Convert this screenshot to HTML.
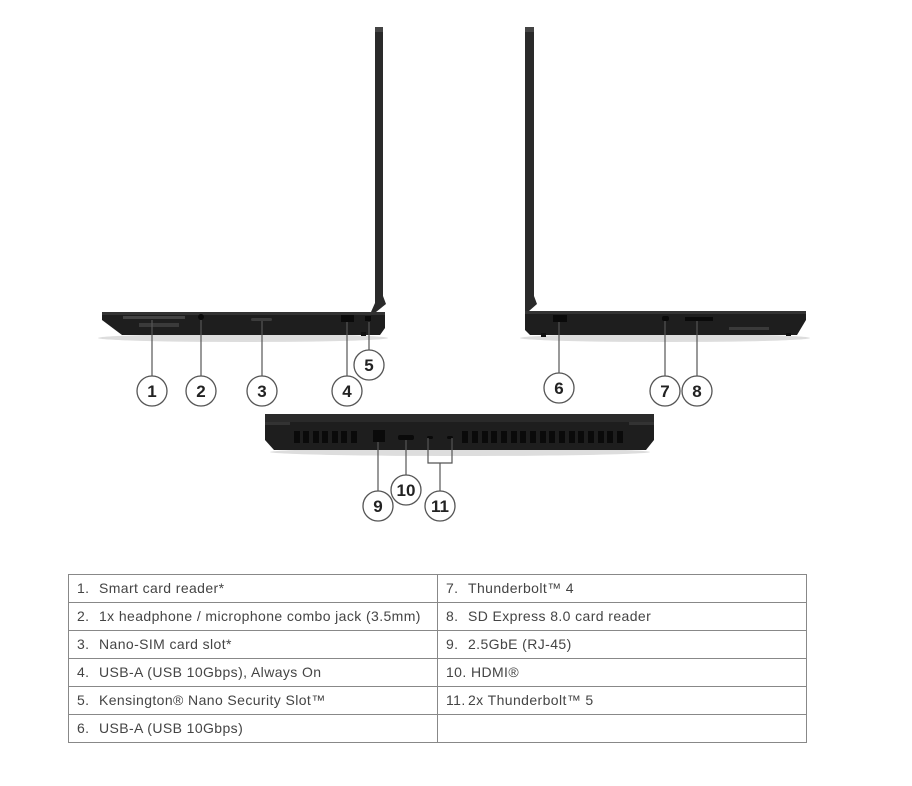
<!DOCTYPE html>
<html><head><meta charset="utf-8"><style>
html,body{margin:0;padding:0;background:#fff;}
svg{display:block;}
text{font-family:"Liberation Sans",sans-serif;}
</style></head><body>
<svg width="912" height="786" viewBox="0 0 912 786" xmlns="http://www.w3.org/2000/svg">
<!-- LEFT LAPTOP -->
<ellipse cx="243" cy="338" rx="145" ry="4" fill="#ddd"/>
<path d="M375 27 L383 27 L383 296 L386 304 L376 312 L371 312 L375 303 Z" fill="#2a2a2a"/>
<rect x="375" y="27" width="8" height="5" fill="#444"/>
<path d="M102 312 L385 312 L385 328 L380 335 L122 335 L102 320 Z" fill="#1e1e1e"/>
<rect x="102" y="312" width="283" height="3" fill="#333"/>
<rect x="123" y="316" width="62" height="3" fill="#444"/>
<rect x="139" y="323" width="40" height="4" fill="#3a3a3a"/>
<circle cx="201" cy="317" r="3" fill="#0a0a0a"/>
<rect x="251" y="318" width="21" height="3" rx="1.5" fill="#3c3c3c"/>
<rect x="341" y="315" width="13" height="7" fill="#0a0a0a"/>
<rect x="365" y="316" width="6" height="5" fill="#0a0a0a"/>
<rect x="361" y="332" width="5" height="4" fill="#111"/>
<!-- RIGHT LAPTOP -->
<ellipse cx="665" cy="338" rx="145" ry="4" fill="#ddd"/>
<path d="M525 27 L534 27 L534 296 L537 304 L529 311 L525 311 Z" fill="#2a2a2a"/>
<rect x="525" y="27" width="9" height="5" fill="#444"/>
<path d="M525 311 L806 311 L806 320 L797 335 L530 335 L525 330 Z" fill="#1e1e1e"/>
<rect x="525" y="311" width="281" height="3" fill="#333"/>
<rect x="553" y="315" width="14" height="7" fill="#0a0a0a"/>
<rect x="662" y="316" width="7" height="5" rx="2" fill="#0a0a0a"/>
<rect x="685" y="317" width="28" height="4" fill="#0a0a0a"/>
<rect x="729" y="327" width="40" height="3" fill="#3a3a3a"/>
<rect x="541" y="333" width="5" height="4" fill="#111"/>
<rect x="786" y="333" width="5" height="3" fill="#111"/>
<!-- REAR -->
<ellipse cx="460" cy="452" rx="190" ry="4" fill="#ddd"/>
<path d="M265 414 L654 414 L654 440 L646 450 L274 450 L265 440 Z" fill="#1e1e1e"/>
<rect x="265" y="414" width="389" height="8" fill="#2a2a2a"/>
<rect x="265" y="422" width="25" height="3" fill="#333"/>
<rect x="629" y="422" width="25" height="3" fill="#333"/>
<g fill="#0a0a0a">
<rect x="294" y="431" width="6" height="12"/><rect x="303" y="431" width="6" height="12"/><rect x="313" y="431" width="6" height="12"/><rect x="322" y="431" width="6" height="12"/><rect x="332" y="431" width="6" height="12"/><rect x="341" y="431" width="6" height="12"/><rect x="351" y="431" width="6" height="12"/>
</g>
<g fill="#0a0a0a">
<rect x="462" y="431" width="6" height="12"/><rect x="472" y="431" width="6" height="12"/><rect x="482" y="431" width="6" height="12"/><rect x="491" y="431" width="6" height="12"/><rect x="501" y="431" width="6" height="12"/><rect x="511" y="431" width="6" height="12"/><rect x="520" y="431" width="6" height="12"/><rect x="530" y="431" width="6" height="12"/><rect x="540" y="431" width="6" height="12"/><rect x="549" y="431" width="6" height="12"/><rect x="559" y="431" width="6" height="12"/><rect x="569" y="431" width="6" height="12"/><rect x="578" y="431" width="6" height="12"/><rect x="588" y="431" width="6" height="12"/><rect x="598" y="431" width="6" height="12"/><rect x="607" y="431" width="6" height="12"/><rect x="617" y="431" width="6" height="12"/>
</g>
<rect x="373" y="430" width="12" height="12" fill="#0a0a0a"/>
<rect x="398" y="435" width="16" height="5" rx="2" fill="#0a0a0a"/>
<rect x="427" y="436" width="6" height="3" rx="1.5" fill="#0a0a0a"/>
<rect x="447" y="436" width="6" height="3" rx="1.5" fill="#0a0a0a"/>
<!-- LEADER LINES -->
<g stroke="#555" stroke-width="1.2" fill="none">
<line x1="152" y1="320" x2="152" y2="376"/>
<line x1="201" y1="320" x2="201" y2="376"/>
<line x1="262" y1="321" x2="262" y2="376"/>
<line x1="347" y1="322" x2="347" y2="376"/>
<line x1="369" y1="322" x2="369" y2="350"/>
<line x1="559" y1="322" x2="559" y2="373"/>
<line x1="665" y1="321" x2="665" y2="376"/>
<line x1="697" y1="321" x2="697" y2="376"/>
<line x1="378" y1="442" x2="378" y2="491"/>
<line x1="406" y1="440" x2="406" y2="475"/>
<polyline points="428,438 428,463 452,463 452,438"/>
<line x1="440" y1="463" x2="440" y2="491"/>
</g>
<!-- CIRCLES -->
<g fill="#fff" stroke="#555" stroke-width="1.3">
<circle cx="152" cy="391" r="15"/><circle cx="201" cy="391" r="15"/><circle cx="262" cy="391" r="15"/><circle cx="347" cy="391" r="15"/><circle cx="369" cy="365" r="15"/>
<circle cx="559" cy="388" r="15"/><circle cx="665" cy="391" r="15"/><circle cx="697" cy="391" r="15"/>
<circle cx="378" cy="506" r="15"/><circle cx="406" cy="490" r="15"/><circle cx="440" cy="506" r="15"/>
</g>
<g font-size="17" font-weight="bold" fill="#222" text-anchor="middle">
<text x="152" y="397">1</text><text x="201" y="397">2</text><text x="262" y="397">3</text><text x="347" y="397">4</text><text x="369" y="371">5</text>
<text x="559" y="394">6</text><text x="665" y="397">7</text><text x="697" y="397">8</text>
<text x="378" y="512">9</text><text x="406" y="496">10</text><text x="440" y="512">11</text>
</g>
<!-- TABLE -->
<g stroke="#888" stroke-width="1" fill="none">
<rect x="68.5" y="574.5" width="738" height="168"/>
<line x1="437.5" y1="574" x2="437.5" y2="742"/>
<line x1="68" y1="602.5" x2="806" y2="602.5"/>
<line x1="68" y1="630.5" x2="806" y2="630.5"/>
<line x1="68" y1="658.5" x2="806" y2="658.5"/>
<line x1="68" y1="686.5" x2="806" y2="686.5"/>
<line x1="68" y1="714.5" x2="806" y2="714.5"/>
</g>
<g font-size="14" fill="#444" letter-spacing="0.4">
<text x="77" y="593">1.</text><text x="99" y="593">Smart card reader*</text>
<text x="77" y="621">2.</text><text x="99" y="621">1x headphone / microphone combo jack (3.5mm)</text>
<text x="77" y="649">3.</text><text x="99" y="649">Nano-SIM card slot*</text>
<text x="77" y="677">4.</text><text x="99" y="677">USB-A (USB 10Gbps), Always On</text>
<text x="77" y="705">5.</text><text x="99" y="705">Kensington® Nano Security Slot™</text>
<text x="77" y="733">6.</text><text x="99" y="733">USB-A (USB 10Gbps)</text>
<text x="446" y="593">7.</text><text x="468" y="593">Thunderbolt™ 4</text>
<text x="446" y="621">8.</text><text x="468" y="621">SD Express 8.0 card reader</text>
<text x="446" y="649">9.</text><text x="468" y="649">2.5GbE (RJ-45)</text>
<text x="446" y="677">10. HDMI®</text>
<text x="446" y="705">11.</text><text x="468" y="705">2x Thunderbolt™ 5</text>
</g>
</svg>
</body></html>
